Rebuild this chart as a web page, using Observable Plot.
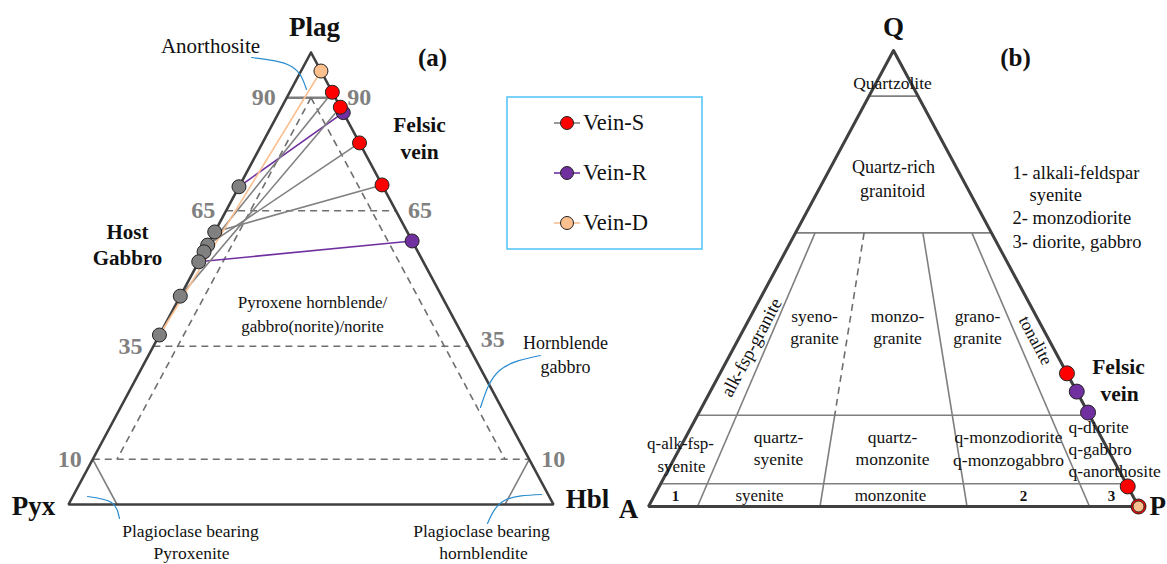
<!DOCTYPE html>
<html><head><meta charset="utf-8">
<script src="https://cdn.jsdelivr.net/npm/d3@7"></script>
<script src="https://cdn.jsdelivr.net/npm/@observablehq/plot@0.6"></script>
<style>
html,body{margin:0;padding:0;background:#fff;}
#chart svg{display:block;}
</style></head><body><div id="chart"></div>
<script>
// ================= DATA =================
// Panel (a): Plag–Pyx–Hbl. Host gabbro plotted on Plag–Pyx edge (Hbl = 0), Plag fraction
const hostPlag = [0.703, 0.603, 0.574, 0.559, 0.537, 0.461, 0.375];
// Felsic veins on Plag–Hbl edge (Pyx = 0)
const veinTypeA = ["Vein-R", "Vein-R", "Vein-S", "Vein-S", "Vein-S", "Vein-S", "Vein-D"];
const veinPlagA = [0.867, 0.583, 0.912, 0.879, 0.800, 0.707, 0.959];
const veinHostA = [0.703, 0.537, 0.559, 0.461, 0.574, 0.603, 0.375]; // paired host gabbro
// Panel (b): QAPF, veins on Q–P edge (A = 0), Q fraction
const veinTypeB = ["Vein-R", "Vein-R", "Vein-S", "Vein-S", "Vein-S", "Vein-D"];
const veinQB = [0.252, 0.206, 0.292, 0.044, 0.0, 0.0];
const seriesNames = ["Vein-S", "Vein-R", "Vein-D"];
// Tick labels / boundaries
const ticksA = [90, 65, 35, 10];     // Plag % lines
const qLevels = [90, 60, 20, 5];     // Q % lines
const pRatios = [10, 35, 65, 90];    // 100*P/(A+P)

// ================= STYLE / LAYOUT =================
const W = 1167, H = 564;
const dotFill = {"Vein-S": "#ff0000", "Vein-R": "#7030a0", "Vein-D": "#fbc08e", "Host": "#808080"};
const lineCol = {"Vein-S": "#808080", "Vein-R": "#7030a0", "Vein-D": "#fbbf8f"};
const edge = "#404040", grid = "#7f7f7f", dash = "#6f6f6f", blue = "#2a8ccf";
const FONT = "'Liberation Serif', 'Times New Roman', serif";
const VA = {top: [310.5, 52], left: [68, 504], right: [553, 504]};   // Plag, Pyx, Hbl
const VB = {top: [893, 50], left: [648, 506], right: [1138, 506]};   // Q, A, P
const tern = V => (t, l, r) => ({x: V.top[0]*t + V.left[0]*l + V.right[0]*r, y: V.top[1]*t + V.left[1]*l + V.right[1]*r});
const pa = tern(VA), pb = tern(VB);
const seg = (p, q, style) => ({x1: p.x, y1: p.y, x2: q.x, y2: q.y, style});

// ---- panel (a) geometry ----
const outlineA = [pa(1,0,0), pa(0,1,0), pa(0,0,1), pa(1,0,0)];
const segsA = [];
ticksA.forEach(t => { const f = t/100; segsA.push(seg(pa(f,1-f,0), pa(f,0,1-f), t === 90 ? "solidThick" : "dash")); });
segsA.push(seg(pa(.9,.05,.05), pa(.1,.85,.05), "dash"));
segsA.push(seg(pa(.9,.05,.05), pa(.1,.05,.85), "dash"));
segsA.push(seg(pa(.1,.9,0), pa(0,.9,.1), "solid"));
segsA.push(seg(pa(.1,0,.9), pa(0,.1,.9), "solid"));

// ---- panel (b) geometry ----
const outlineB = [pb(1,0,0), pb(0,1,0), pb(0,0,1), pb(1,0,0)];
const segsB = [];
qLevels.forEach(q => { const f = q/100; segsB.push(seg(pb(f,1-f,0), pb(f,0,1-f), "solid")); });
pRatios.forEach(r => {
  const f = r/100;
  const at = q => pb(q, (1-q)*(1-f), (1-q)*f);
  if (r === 35) { segsB.push(seg(at(.6), at(.2), "dash")); segsB.push(seg(at(.2), at(0), "solid")); }
  else segsB.push(seg(at(.6), at(0), "solid"));
});

// ---- points ----
const hostPts = hostPlag.map(p => ({...pa(p, 1-p, 0), type: "Host"}));
const order = {"Vein-R": 0, "Vein-S": 1, "Vein-D": 2};
const veinPtsA = veinPlagA.map((p, i) => ({...pa(p, 0, 1-p), type: veinTypeA[i], host: veinHostA[i]}))
  .sort((a, b) => order[a.type] - order[b.type]);
const tiesA = veinPtsA.map(v => { const h = pa(v.host, 1-v.host, 0); return {x1: h.x, y1: h.y, x2: v.x, y2: v.y, type: v.type}; });
const veinPtsB = veinQB.map((q, i) => ({...pb(q, 0, 1-q), type: veinTypeB[i]}))
  .sort((a, b) => order[a.type] - order[b.type]);

// ---- tick labels ----
const tickLabL = ticksA.map(t => ({...pa(t/100, 1-t/100, 0), label: String(t)}));
const tickLabR = ticksA.map(t => ({...pa(t/100, 0, 1-t/100), label: String(t), dy: t === 35 ? -7 : 0}));

// ---- text annotations ----
const boldBig = [
  {x: 314, y: 27, t: "Plag"}, {x: 33, y: 506, t: "Pyx"}, {x: 587, y: 499, t: "Hbl"},
  {x: 893, y: 27, t: "Q"}, {x: 628, y: 509, t: "A"}
];
const boldMid = [
  {x: 432, y: 57, t: "(a)", s: 25}, {x: 1015, y: 57, t: "(b)", s: 25},
  {x: 419, y: 125, t: "Felsic", s: 21.5}, {x: 419, y: 152, t: "vein", s: 21.5},
  {x: 127, y: 232, t: "Host", s: 21}, {x: 127, y: 258, t: "Gabbro", s: 21},
  {x: 1118, y: 367, t: "Felsic", s: 21.5}, {x: 1119, y: 394, t: "vein", s: 21.5}
];
const plain = [
  {x: 210, y: 46, t: "Anorthosite", s: 21},
  {x: 312, y: 302, t: "Pyroxene hornblende/", s: 17}, {x: 312, y: 326, t: "gabbro(norite)/norite", s: 17},
  {x: 565, y: 343, t: "Hornblende", s: 18}, {x: 565, y: 367, t: "gabbro", s: 18},
  {x: 190, y: 531, t: "Plagioclase bearing", s: 17.5}, {x: 191, y: 553, t: "Pyroxenite", s: 17.5},
  {x: 481, y: 531, t: "Plagioclase bearing", s: 17.5}, {x: 483, y: 553, t: "hornblendite", s: 17.5},
  {x: 892, y: 83, t: "Quartzolite", s: 17.5},
  {x: 893, y: 167, t: "Quartz-rich", s: 18}, {x: 892, y: 191, t: "granitoid", s: 18},
  {x: 814, y: 316, t: "syeno-", s: 17.5}, {x: 814, y: 338, t: "granite", s: 17.5},
  {x: 897, y: 316, t: "monzo-", s: 17.5}, {x: 897, y: 338, t: "granite", s: 17.5},
  {x: 977, y: 316, t: "grano-", s: 17.5}, {x: 977, y: 338, t: "granite", s: 17.5},
  {x: 680, y: 443, t: "q-alk-fsp-", s: 17}, {x: 681, y: 466, t: "syenite", s: 17},
  {x: 778, y: 437, t: "quartz-", s: 17.5}, {x: 778, y: 459, t: "syenite", s: 17.5},
  {x: 892, y: 437, t: "quartz-", s: 17.5}, {x: 892, y: 459, t: "monzonite", s: 17.5},
  {x: 1008, y: 437, t: "q-monzodiorite", s: 17.5}, {x: 1008, y: 460, t: "q-monzogabbro", s: 17.5},
  {x: 759, y: 495, t: "syenite", s: 17}, {x: 890, y: 495, t: "monzonite", s: 17}
];
const plainStart = [
  {x: 1068, y: 427, t: "q-diorite"}, {x: 1068, y: 449, t: "q-gabbro"}, {x: 1068, y: 471, t: "q-anorthosite"}
];
const notes = [
  {x: 1012, y: 173, t: "1- alkali-feldspar"}, {x: 1029, y: 195, t: "syenite"},
  {x: 1012, y: 218, t: "2- monzodiorite"}, {x: 1012, y: 242, t: "3- diorite, gabbro"}
];
const smallBold = [{x: 675, y: 496, t: "1"}, {x: 1023, y: 496, t: "2"}, {x: 1111, y: 496, t: "3"}];
const rotated = [{x: 751, y: 347, t: "alk-fsp-granite", r: -62, s: 18.5}, {x: 1035, y: 340, t: "tonalite", r: 62, s: 17.5}];
const cornerP = [{x: 1149, y: 506, t: "P"}];

// leader curves
const leaders = [
  [[251, 57], [291, 66], [306, 89]],
  [[540, 355], [499, 370], [480, 407]],
  [[87, 496], [111, 502], [119, 518]],
  [[541, 494], [504, 500], [487, 523]]
].flatMap((pts, k) => pts.map(([x, y]) => ({x, y, k})));

// legend
const legendBox = [{x1: 507, x2: 702, y1: 97, y2: 249}];
const legendItems = seriesNames.map((s, i) => ({type: s, x: 566.5, y: 122.5 + i*50}));

// ================= PLOT =================
const linkStyle = {
  solid: {stroke: grid, strokeWidth: 1.6},
  solidThick: {stroke: grid, strokeWidth: 2.6},
  dash: {stroke: dash, strokeWidth: 1.6, strokeDasharray: "7,5"}
};
const segMarks = (segs) => Object.keys(linkStyle).map(k =>
  Plot.link(segs.filter(d => d.style === k), {x1: "x1", y1: "y1", x2: "x2", y2: "y2", ...linkStyle[k]}));

const chart = Plot.plot({
  width: W, height: H, margin: 0,
  x: {domain: [0, W], range: [0, W], axis: null},
  y: {domain: [0, H], range: [0, H], axis: null},
  color: {type: "identity"},
  style: {fontFamily: FONT, background: "white"},
  marks: [
    // panel (a)
    ...segMarks(segsA),
    Plot.line(outlineA, {x: "x", y: "y", stroke: edge, strokeWidth: 2.6, strokeLinejoin: "miter"}),
    Plot.link(tiesA, {x1: "x1", y1: "y1", x2: "x2", y2: "y2", stroke: d => lineCol[d.type], strokeWidth: 1.6}),
    Plot.dot(hostPts, {x: "x", y: "y", r: 7, fill: d => dotFill[d.type], stroke: "#222", strokeWidth: 1}),
    Plot.dot(veinPtsA, {x: "x", y: "y", r: 7, fill: d => dotFill[d.type], stroke: "#222", strokeWidth: 1}),
    Plot.text(tickLabL, {x: "x", y: "y", text: "label", textAnchor: "end", dx: -11, fill: "#808080", fontWeight: "bold", fontSize: 24, fontFamily: FONT}),
    Plot.text(tickLabR, {x: "x", y: d => d.y + d.dy, text: "label", textAnchor: "start", dx: 12, fill: "#808080", fontWeight: "bold", fontSize: 24, fontFamily: FONT}),
    // panel (b)
    ...segMarks(segsB),
    Plot.line(outlineB, {x: "x", y: "y", stroke: edge, strokeWidth: 3, strokeLinejoin: "miter"}),
    Plot.dot(veinPtsB.filter(d => d.type !== "Vein-D"), {x: "x", y: "y", r: 7.5, fill: d => dotFill[d.type], stroke: "#222", strokeWidth: 1}),
    Plot.dot(veinPtsB.filter(d => d.type === "Vein-D"), {x: "x", y: "y", r: 5.5, fill: d => dotFill[d.type], stroke: "#222", strokeWidth: 1}),
    // leaders
    Plot.line(leaders, {x: "x", y: "y", z: "k", curve: "natural", stroke: blue, strokeWidth: 1.2}),
    // legend
    Plot.rect(legendBox, {x1: "x1", x2: "x2", y1: "y1", y2: "y2", fill: "none", stroke: "#4fc3f7", strokeWidth: 1.5}),
    Plot.link(legendItems, {x1: d => d.x - 13, x2: d => d.x + 13, y1: "y", y2: "y", stroke: d => lineCol[d.type], strokeWidth: 1.6}),
    Plot.dot(legendItems, {x: "x", y: "y", r: 6.5, fill: d => dotFill[d.type], stroke: "#222", strokeWidth: 1}),
    Plot.text(legendItems, {x: d => d.x + 16, y: "y", text: "type", textAnchor: "start", fontSize: 22.5, fill: "#111", fontFamily: FONT}),
    // text
    Plot.text(boldBig, {x: "x", y: "y", text: "t", fontSize: 27, fontWeight: "bold", fill: "#111", fontFamily: FONT}),
    Plot.text(cornerP, {x: "x", y: "y", text: "t", textAnchor: "start", fontSize: 27, fontWeight: "bold", fill: "#111", fontFamily: FONT}),
    Plot.text(boldMid, {x: "x", y: "y", text: "t", fontSize: d => d.s, fontWeight: "bold", fill: "#111", fontFamily: FONT}),
    Plot.text(plain, {x: "x", y: "y", text: "t", fontSize: d => d.s, fill: "#111", fontFamily: FONT}),
    Plot.text(plainStart, {x: "x", y: "y", text: "t", textAnchor: "start", fontSize: 17.5, fill: "#111", fontFamily: FONT}),
    Plot.text(notes, {x: "x", y: "y", text: "t", textAnchor: "start", fontSize: 18.5, fill: "#111", fontFamily: FONT}),
    Plot.text(smallBold, {x: "x", y: "y", text: "t", fontSize: 15, fontWeight: "bold", fill: "#111", fontFamily: FONT}),
    Plot.text(rotated, {x: "x", y: "y", text: "t", rotate: "r", fontSize: d => d.s, fill: "#111", fontFamily: FONT})
  ]
});
document.getElementById("chart").append(chart);
</script></body></html>
